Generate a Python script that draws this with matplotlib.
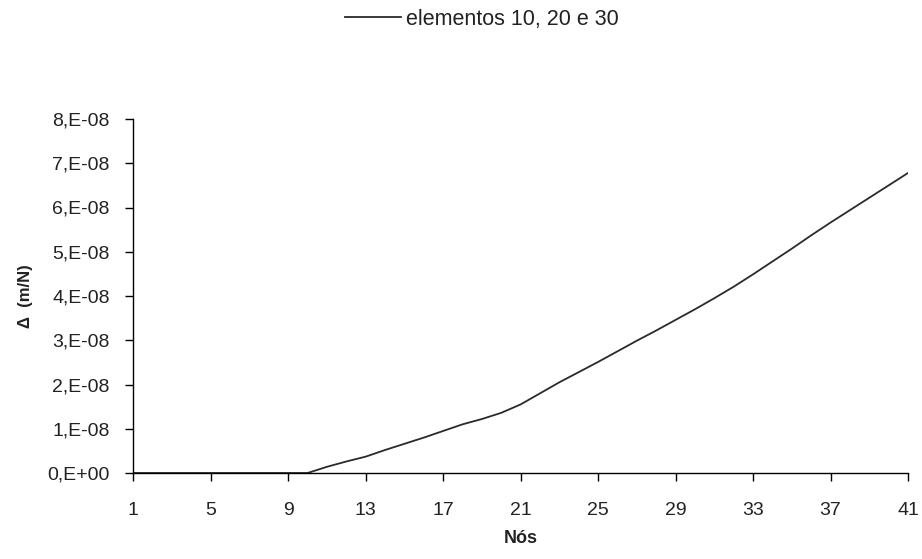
import matplotlib
matplotlib.use("Agg")
import matplotlib.pyplot as plt
from matplotlib.ticker import FixedLocator

plt.rcParams['font.family'] = ['Liberation Sans', 'DejaVu Sans']

# Node numbers and flexibility values (m/N)
nodes = list(range(1, 42))
delta = [0, 0, 0, 0, 0, 0, 0, 0, 0, 0,
         0.14e-8, 0.26e-8, 0.37e-8, 0.52e-8, 0.66e-8, 0.80e-8, 0.95e-8, 1.10e-8,
         1.22e-8, 1.36e-8, 1.55e-8, 1.80e-8, 2.05e-8, 2.28e-8, 2.51e-8, 2.75e-8,
         2.99e-8, 3.22e-8, 3.46e-8, 3.70e-8, 3.95e-8, 4.21e-8, 4.49e-8, 4.78e-8,
         5.07e-8, 5.37e-8, 5.66e-8, 5.94e-8, 6.22e-8, 6.50e-8, 6.78e-8]
x_ticks = list(range(1, 42, 4))
y_ticks = [0, 1e-8, 2e-8, 3e-8, 4e-8, 5e-8, 6e-8, 7e-8, 8e-8]
y_tick_labels = ['0,E+00', '1,E-08', '2,E-08', '3,E-08', '4,E-08',
                 '5,E-08', '6,E-08', '7,E-08', '8,E-08']
series_label = 'elementos 10, 20 e 30'

W, H = 922, 559
fig = plt.figure(figsize=(W / 100, H / 100), dpi=100)
ax = fig.add_axes([133.3 / W, (H - 473) / H, (908 - 133.3) / W, (473 - 119) / H])

text_color = '#222222'
ax.plot(nodes, delta, color='#2a2a2a', lw=1.3, label=series_label)

ax.set_xlim(1, 41)
ax.set_ylim(0, 8e-8)
ax.xaxis.set_major_locator(FixedLocator(x_ticks))
ax.set_xticklabels([str(v) for v in x_ticks])
ax.yaxis.set_major_locator(FixedLocator(y_ticks))
ax.set_yticklabels(y_tick_labels)

for side in ('top', 'right'):
    ax.spines[side].set_visible(False)
for side in ('left', 'bottom'):
    ax.spines[side].set_color('black')
    ax.spines[side].set_linewidth(1.0)

ax.tick_params(axis='both', direction='out', length=6, width=1.0,
               colors='black', labelcolor=text_color, labelsize=14)
ax.tick_params(axis='x', pad=15)
ax.tick_params(axis='y', pad=11)

ax.set_xlabel('Nós', fontsize=13, fontweight='bold', color=text_color, labelpad=8)
ax.set_ylabel('Δ  (m/N)', fontsize=12, fontweight='bold', color=text_color, labelpad=10)

leg = fig.legend(loc='center', bbox_to_anchor=(482 / W, 1 - 19 / H), frameon=False,
                 fontsize=15.5, handlelength=2.6, handletextpad=0.25,
                 labelcolor=text_color)

fig.savefig('out.png', dpi=100, facecolor='white')
